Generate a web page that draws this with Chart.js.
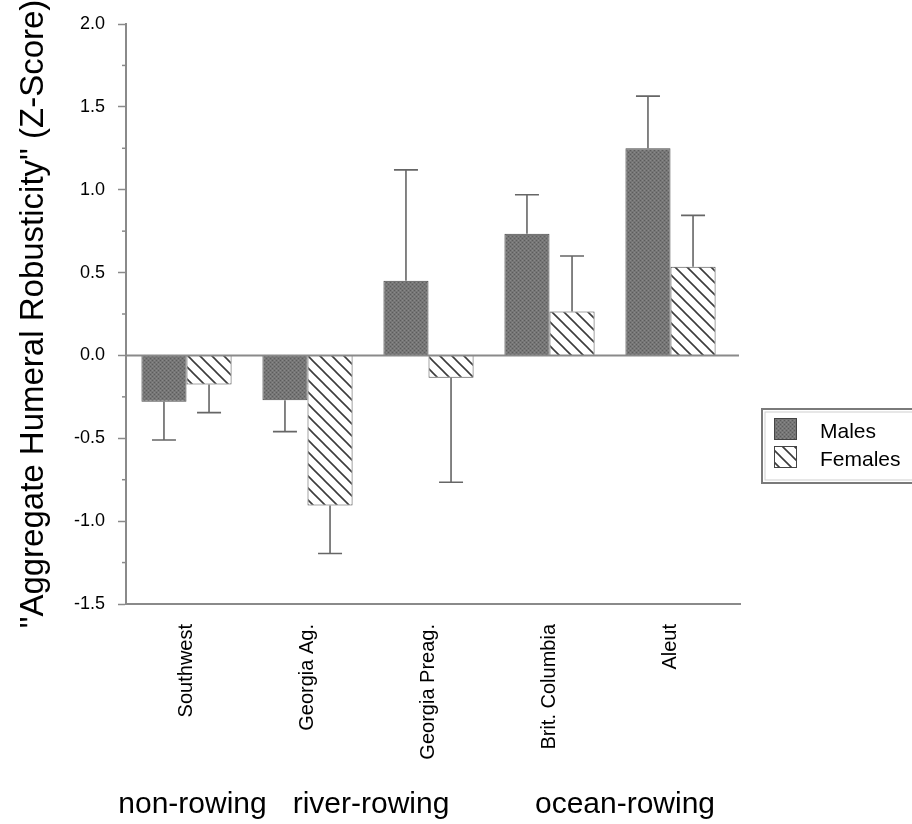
<!DOCTYPE html>
<html lang="en">
<head>
<meta charset="UTF-8" />
<title>Aggregate Humeral Robusticity</title>
<script src="https://cdn.jsdelivr.net/npm/chart.js"></script>
<style>
  html, body { margin: 0; padding: 0; background: #fff; }
  #wrap { position: relative; width: 912px; height: 824px; }
</style>
</head>
<body>
<div id="wrap"><canvas id="myChart" width="912" height="824"></canvas></div>
<script>
  // values
  const groups = ["Southwest", "Georgia Ag.", "Georgia Preag.", "Brit. Columbia", "Aleut"];
  const males = [-0.28, -0.27, 0.45, 0.735, 1.25];
  const females = [-0.175, -0.905, -0.135, 0.265, 0.535];
  const maleErr = [0.23, 0.19, 0.67, 0.235, 0.315];
  const femaleErr = [0.17, 0.29, 0.63, 0.335, 0.31];
  const yTicks = [-1.5, -1.0, -0.5, 0.0, 0.5, 1.0, 1.5, 2.0];
  const lifestyles = [
    { label: "non-rowing", from: 0, to: 0, shift: 6 },
    { label: "river-rowing", from: 1, to: 2, shift: 3 },
    { label: "ocean-rowing", from: 3, to: 4, shift: 15 }
  ];

  const FONT = "'Liberation Sans', Arial, Helvetica, sans-serif";
  const AXIS = "#8a8a8a";

  // stippled dark grey fill
  function dotPattern() {
    const c = document.createElement("canvas");
    c.width = 4; c.height = 4;
    const g = c.getContext("2d");
    g.fillStyle = "#767676";
    g.fillRect(0, 0, 4, 4);
    g.fillStyle = "#5c5c5c";
    g.fillRect(0, 0, 1, 1);
    g.fillRect(2, 2, 1, 1);
    g.fillStyle = "#898989";
    g.fillRect(2, 0, 1, 1);
    g.fillRect(0, 2, 1, 1);
    return g.createPattern(c, "repeat");
  }

  // white with "\" hatching
  function hatchPattern() {
    const s = 12;
    const c = document.createElement("canvas");
    c.width = s; c.height = s;
    const g = c.getContext("2d");
    g.fillStyle = "#ffffff";
    g.fillRect(0, 0, s, s);
    g.strokeStyle = "#3c3c3c";
    g.lineWidth = 1.6;
    g.beginPath();
    g.moveTo(-2, -2); g.lineTo(s + 2, s + 2);
    g.moveTo(-2, s - 2); g.lineTo(2, s + 2);
    g.moveTo(s - 2, -2); g.lineTo(s + 2, 2);
    g.stroke();
    return g.createPattern(c, "repeat");
  }

  const maleFill = dotPattern();
  const femaleFill = hatchPattern();

  // one-sided error bars, pointing away from zero
  const errorBars = {
    id: "errorBars",
    afterDatasetsDraw(chart) {
      const { ctx, scales: { y } } = chart;
      const errs = [maleErr, femaleErr];
      ctx.save();
      ctx.strokeStyle = "#666";
      ctx.lineWidth = 1.6;
      chart.data.datasets.forEach((ds, i) => {
        chart.getDatasetMeta(i).data.forEach((bar, j) => {
          const v = ds.data[j];
          const end = v + Math.sign(v) * errs[i][j];
          const yEnd = y.getPixelForValue(end);
          ctx.beginPath();
          ctx.moveTo(bar.x, bar.y);
          ctx.lineTo(bar.x, yEnd);
          ctx.moveTo(bar.x - 12, yEnd);
          ctx.lineTo(bar.x + 12, yEnd);
          ctx.stroke();
        });
      });
      ctx.restore();
    }
  };

  // minor ticks, axis extensions, legend box and group captions
  const decorations = {
    id: "decorations",
    afterDraw(chart) {
      const { ctx, chartArea: a, scales: { x, y } } = chart;
      ctx.save();
      ctx.strokeStyle = AXIS;
      ctx.lineWidth = 1.5;
      y.ticks.forEach(t => {
        if (yTicks.includes(t.value)) return;
        const py = y.getPixelForValue(t.value);
        ctx.beginPath();
        ctx.moveTo(a.left - 4, py);
        ctx.lineTo(a.left, py);
        ctx.stroke();
      });
      // zero line and bottom axis run a little past the last group
      ctx.lineWidth = 2;
      const y0 = y.getPixelForValue(0);
      ctx.beginPath();
      ctx.moveTo(a.left, y0); ctx.lineTo(a.right + 8, y0);
      ctx.moveTo(a.right, a.bottom); ctx.lineTo(a.right + 10, a.bottom);
      ctx.stroke();

      // legend
      ctx.strokeStyle = "#7a7a7a";
      ctx.lineWidth = 2;
      ctx.strokeRect(762, 409, 160, 74);
      ctx.strokeStyle = "#cfcfcf";
      ctx.lineWidth = 1;
      ctx.strokeRect(765, 412, 160, 68);
      const items = [["Males", maleFill, 418], ["Females", femaleFill, 446]];
      ctx.font = "21px " + FONT;
      ctx.textBaseline = "alphabetic";
      ctx.textAlign = "left";
      items.forEach(([label, fill, top]) => {
        ctx.fillStyle = fill;
        ctx.fillRect(774, top, 22, 21);
        ctx.strokeStyle = "#444";
        ctx.lineWidth = 1;
        ctx.strokeRect(774.5, top + 0.5, 22, 21);
        ctx.fillStyle = "#000";
        ctx.fillText(label, 820, top + 20);
      });

      // lifestyle captions under the category labels
      ctx.font = "30px " + FONT;
      ctx.textAlign = "center";
      ctx.fillStyle = "#000";
      lifestyles.forEach(g => {
        const cx = (x.getPixelForValue(g.from) + x.getPixelForValue(g.to)) / 2 + g.shift;
        ctx.fillText(g.label, cx, 813);
      });
      ctx.restore();
    }
  };

  new Chart(document.getElementById("myChart"), {
    type: "bar",
    data: {
      labels: groups,
      datasets: [
        { label: "Males", data: males, backgroundColor: maleFill, borderColor: "#4a4a4a", borderWidth: 1 },
        { label: "Females", data: females, backgroundColor: femaleFill, borderColor: "#4a4a4a", borderWidth: 1 }
      ]
    },
    options: {
      responsive: false,
      animation: false,
      layout: { padding: { left: 0, right: 181, top: 24, bottom: 0 } },
      plugins: { legend: { display: false }, tooltip: { enabled: false } },
      datasets: { bar: { categoryPercentage: 0.745, barPercentage: 1.0 } },
      scales: {
        x: {
          afterFit: s => { s.height = 220; },
          grid: { display: true, drawTicks: false, color: "transparent" },
          border: { display: true, color: AXIS, width: 2 },
          ticks: {
            color: "#000",
            font: { family: FONT, size: 20 },
            minRotation: 90,
            maxRotation: 90,
            padding: 20,
            autoSkip: false
          }
        },
        y: {
          min: -1.5,
          max: 2.0,
          afterFit: s => { s.width = 126; },
          afterBuildTicks: s => {
            const t = [];
            for (let k = 0; k <= 14; k++) t.push({ value: Math.round((-1.5 + k * 0.25) * 100) / 100 });
            s.ticks = t;
          },
          grid: {
            drawOnChartArea: false,
            tickLength: 8,
            tickWidth: 1.5,
            tickColor: c => yTicks.includes(c.tick.value) ? AXIS : "transparent"
          },
          border: { display: true, color: AXIS, width: 2 },
          ticks: {
            autoSkip: false,
            color: "#000",
            padding: 13,
            font: { family: FONT, size: 18 },
            callback: v => yTicks.includes(v) ? v.toFixed(1) : ""
          },
          title: {
            display: true,
            text: "\"Aggregate Humeral Robusticity\" (Z-Score)",
            color: "#000",
            font: { family: FONT, size: 33 },
            padding: { top: 14, bottom: 0 }
          }
        }
      }
    },
    plugins: [errorBars, decorations]
  });
</script>
</body>
</html>
